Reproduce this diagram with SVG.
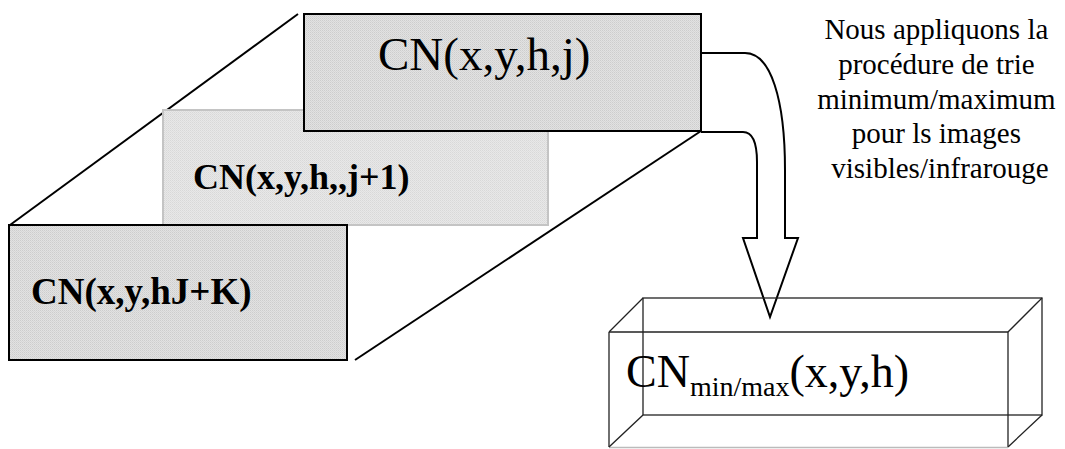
<svg xmlns="http://www.w3.org/2000/svg" width="1065" height="449" viewBox="0 0 1065 449">
  <defs>
    <!-- fine dithered grey used by the image frames -->
    <pattern id="dither" width="2" height="2" patternUnits="userSpaceOnUse">
      <rect width="2" height="2" fill="#e2e2e2"/>
      <rect x="0" y="0" width="1" height="1" fill="#cdcdcd"/>
      <rect x="1" y="1" width="1" height="1" fill="#d6d6d6"/>
    </pattern>
    <pattern id="ditherLight" width="2" height="2" patternUnits="userSpaceOnUse">
      <rect width="2" height="2" fill="#e8e8e8"/>
      <rect x="0" y="0" width="1" height="1" fill="#d8d8d8"/>
      <rect x="1" y="1" width="1" height="1" fill="#dedede"/>
    </pattern>
    <style>
      .frame { fill: url(#dither); stroke: #000; stroke-width: 2; }
      .frame-light { fill: url(#ditherLight); stroke: #c4c4c4; stroke-width: 2; }
      .edge { stroke: #000; stroke-width: 2; fill: none; }
      .wire { stroke: #222; stroke-width: 1.3; fill: none; }
      .serif { font-family: "Liberation Serif", "Times New Roman", serif; fill: #000; }
      .bold { font-weight: bold; }
    </style>
  </defs>

  <rect width="1065" height="449" fill="#fff"/>

  <!-- perspective edges of the image stack -->
  <g id="connectors">
    <line class="edge" x1="10" y1="225" x2="298" y2="14"/>
    <line class="edge" x1="355" y1="360" x2="701" y2="131"/>
    <!-- bent block arrow to the result box -->
    <path id="arrow" class="edge" d="M701,53 L745,53 C771,53 785,100 785,170 L785,238 L798,238 L770,317 L743,238 L757,238 L757,162 C757,142 752,132 743,132 L701,132"/>
  </g>

  <g id="frame-j1">
    <rect class="frame-light" x="163" y="110" width="385" height="115"/>
    <text class="serif bold" x="193" y="189" font-size="36">CN(x,y,h,,j+1)</text>
  </g>

  <g id="frame-j">
    <rect class="frame" x="304" y="14" width="397" height="117"/>
    <text class="serif" x="378" y="70" font-size="47">CN(x,y,h,j)</text>
  </g>

  <g id="frame-jk">
    <rect class="frame" x="9" y="225" width="338" height="135"/>
    <text class="serif bold" x="31" y="304" font-size="37">CN(x,y,hJ+K)</text>
  </g>

  <g id="note">
    <text class="serif" font-size="29" text-anchor="middle">
      <tspan x="940" y="39">Nous appliquons la</tspan>
      <tspan x="940" y="74">procédure de trie</tspan>
      <tspan x="940" y="108.5">minimum/maximum</tspan>
      <tspan x="940" y="143">pour ls images</tspan>
      <tspan x="940" y="178">visibles/infrarouge</tspan>
    </text>
  </g>

  <!-- wireframe result box -->
  <g id="result">
    <rect class="wire" x="643" y="298" width="399" height="117"/>
    <line class="wire" x1="609" y1="332" x2="1008" y2="332"/>
    <line class="wire" x1="609" y1="332" x2="609" y2="447"/>
    <line class="wire" x1="1008" y1="332" x2="1008" y2="447"/>
    <line x1="609" y1="447.5" x2="1008" y2="447.5" stroke="#bbb" stroke-width="1.3"/>
    <line class="wire" x1="609" y1="332" x2="643" y2="298"/>
    <line class="wire" x1="1008" y1="332" x2="1042" y2="298"/>
    <line class="wire" x1="1008" y1="447" x2="1042" y2="415"/>
    <line class="wire" x1="609" y1="447" x2="643" y2="415"/>
    <text class="serif" x="626" y="387" font-size="46">CN<tspan font-size="28" dy="9">min/max</tspan><tspan dy="-9">(x,y,h)</tspan></text>
  </g>
</svg>
